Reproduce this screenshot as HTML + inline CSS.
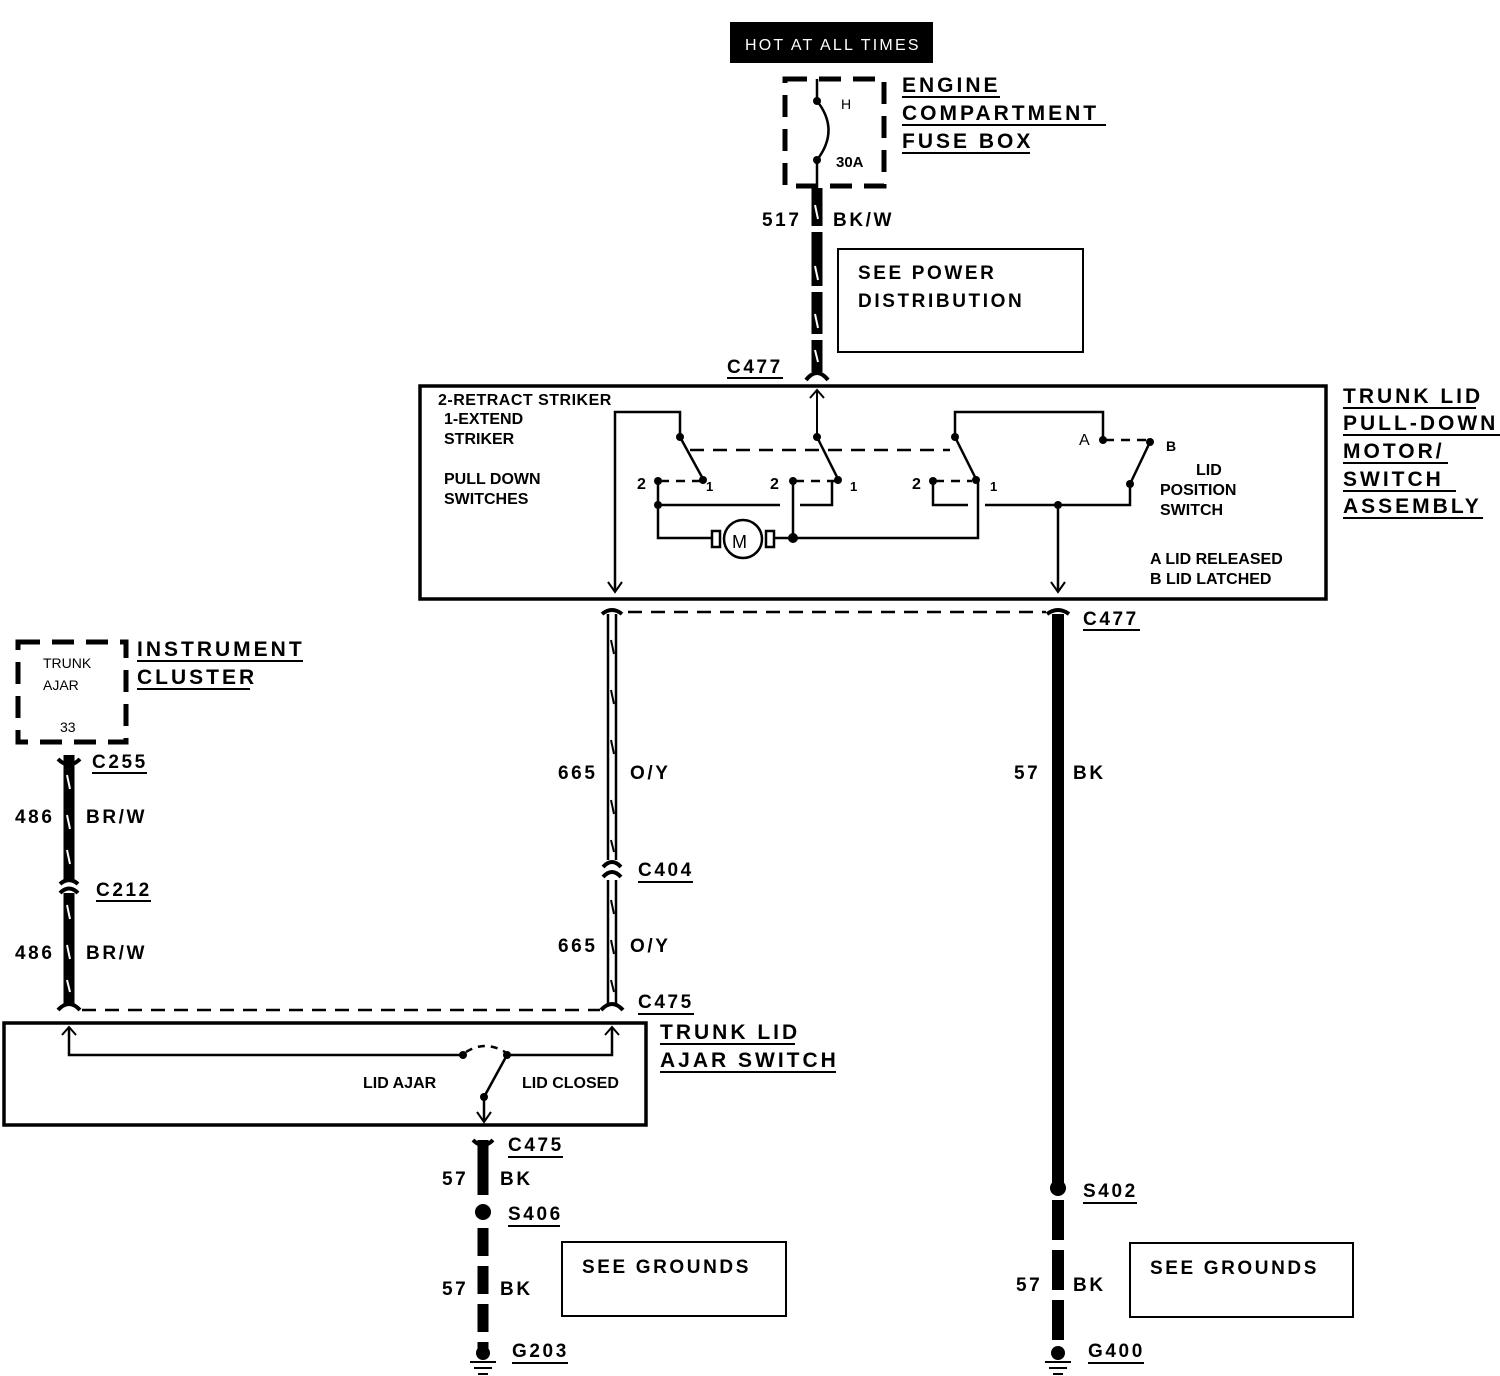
<!DOCTYPE html>
<html><head><meta charset="utf-8"><style>
html,body{margin:0;padding:0;background:#fff}
svg{display:block}
text{font-family:"Liberation Sans",Arial,sans-serif;font-weight:bold;fill:#000}
.l{font-size:19px;letter-spacing:2.6px}
.t{font-size:21px;letter-spacing:3px}
.s{font-size:16px}
</style></head><body>
<svg width="1500" height="1376" viewBox="0 0 1500 1376" xmlns="http://www.w3.org/2000/svg">
<g stroke="#000" fill="none">
<rect x="730" y="22" width="203" height="41" fill="#000" stroke="none"/>
<rect x="785" y="79" width="99" height="107" stroke-width="5" stroke-dasharray="22,12"/>
<path d="M817 79V101 M817 101 Q840 130 817 160 M817 160V188" stroke-width="2.5"/>
<path d="M817 188V372" stroke-width="11"/>
<path d="M817 232v-6 M817 292v-6 M817 340v-6" stroke="#fff" stroke-width="12"/>
<path d="M815 205l3 14 M815 266l3 14 M815 314l3 14 M815 350l3 12" stroke="#fff" stroke-width="2"/>
<path d="M806 380 Q817 366 828 380" stroke-width="4"/>
<rect x="838" y="249" width="245" height="103" stroke-width="2"/>
<rect x="420" y="386" width="906" height="213" stroke-width="3.5"/>
<path d="M817 437V390 M810 398l7-8 7 8" stroke-width="2"/>
<g stroke-width="2.5">
<path d="M615 590V412H680V437"/>
<path d="M680 437L703 479"/>
<path d="M658 481V538H712 M658 505H780 M800 505H832V481"/>
<path d="M774 538H978V481"/>
<path d="M793 481V538"/>
<path d="M817 437L838 479"/>
<path d="M955 437V412H1103V440"/>
<path d="M955 437L976 479"/>
<path d="M933 481V505H968 M985 505H1130V484 M1130 484L1150 442"/>
<path d="M1058 505V590"/>
</g>
<path d="M608 582l7 10 7-10 M1051 582l7 10 7-10" stroke-width="2"/>
<path d="M690 450H950" stroke-width="2.5" stroke-dasharray="14,9"/>
<path d="M660 481H700 M795 481H836 M935 481H972 M1105 440H1150" stroke-width="2.5" stroke-dasharray="9,7"/>
<circle cx="743" cy="539" r="19" stroke-width="2.5" fill="#fff"/>
<rect x="712" y="531" width="8" height="16" stroke-width="2.5" fill="#fff"/>
<rect x="766" y="531" width="8" height="16" stroke-width="2.5" fill="#fff"/>
</g>
<g fill="#000">
<circle cx="680" cy="437" r="4"/><circle cx="703" cy="480" r="4"/><circle cx="658" cy="481" r="4"/><circle cx="658" cy="505" r="4"/>
<circle cx="817" cy="437" r="4"/><circle cx="838" cy="480" r="4"/><circle cx="793" cy="481" r="4"/><circle cx="793" cy="538" r="5"/>
<circle cx="955" cy="437" r="4"/><circle cx="976" cy="480" r="4"/><circle cx="933" cy="481" r="4"/>
<circle cx="1103" cy="440" r="4"/><circle cx="1150" cy="442" r="4"/><circle cx="1130" cy="484" r="4"/><circle cx="1058" cy="505" r="4"/>
<circle cx="817" cy="101" r="4"/><circle cx="817" cy="160" r="4"/>
</g>
<g stroke="#000" fill="none">
<path d="M628 612H1046" stroke-width="2.5" stroke-dasharray="14,9"/>
<path d="M602 614 Q612 606 622 614 M1047 614 Q1058 606 1069 614" stroke-width="4"/>
<path d="M608 614V860 M616 614V860 M608 880V1005 M616 880V1005" stroke-width="2.5"/>
<path d="M611 640l3 14 M611 690l3 14 M611 740l3 14 M611 800l3 14 M611 840l3 12 M611 900l3 14 M611 940l3 14 M611 980l3 12" stroke-width="2"/>
<path d="M603 867 Q612 857 621 867 M603 877 Q612 867 621 877" stroke-width="4"/>
<path d="M1058 614V1188" stroke-width="12"/>
<path d="M1058 1200V1350" stroke-width="12" stroke-dasharray="40,10"/>
<rect x="18" y="642" width="108" height="100" stroke-width="5" stroke-dasharray="22,12"/>
<path d="M69 755V880 M69 893V1005" stroke-width="11"/>
<path d="M67 775l3 14 M67 815l3 14 M67 850l3 14 M67 905l3 14 M67 945l3 14 M67 980l3 12" stroke="#fff" stroke-width="2"/>
<path d="M58 759 Q69 770 80 759" stroke-width="4"/>
<path d="M60 884 Q69 876 78 884 M60 893 Q69 884 78 893" stroke-width="4"/>
<path d="M58 1010 Q69 998 80 1010 M601 1010 Q612 998 623 1010" stroke-width="4"/>
<path d="M82 1010H600" stroke-width="2.5" stroke-dasharray="14,9"/>
<rect x="4" y="1023" width="642" height="102" stroke-width="3.5"/>
<g stroke-width="2.5">
<path d="M69 1028V1055H463 M507 1055H612V1028 M507 1055L484 1097V1120"/>
</g>
<path d="M62 1035l7-8 7 8 M605 1035l7-8 7 8 M477 1112l7 10 7-10" stroke-width="2"/>
<path d="M466 1052 Q485 1040 505 1052" stroke-width="2.5" stroke-dasharray="7,6"/>
<path d="M483 1140V1195" stroke-width="11"/>
<path d="M483 1228V1350" stroke-width="11" stroke-dasharray="28,10"/>
<path d="M473 1140 Q483 1150 493 1140" stroke-width="4"/>
<rect x="562" y="1242" width="224" height="74" stroke-width="2"/>
<rect x="1130" y="1243" width="223" height="74" stroke-width="2"/>
<path d="M470 1362H496 M474 1368H492 M478 1374H488 M1045 1362H1071 M1049 1368H1067 M1053 1374H1063" stroke-width="2"/>
</g>
<g fill="#000">
<circle cx="483" cy="1212" r="8"/><circle cx="1058" cy="1188" r="8"/>
<circle cx="483" cy="1353" r="7"/><circle cx="1058" cy="1353" r="7"/>
<circle cx="463" cy="1055" r="4"/><circle cx="507" cy="1055" r="4"/><circle cx="484" cy="1097" r="4"/>
</g>
<g stroke="#000" stroke-width="2">
<path d="M902 97H1000 M902 125H1106 M902 153H1030 M727 378H783 M1343 408H1476 M1343 435H1500 M1343 463H1448 M1343 491H1456 M1343 518H1483 M1083 630H1140 M137 661H303 M137 689H250 M92 773H147 M96 901H151 M638 882H693 M638 1014H694 M660 1044H795 M660 1072H836 M508 1157H563 M508 1226H560 M512 1363H568 M1083 1203H1137 M1088 1363H1144"/>
</g>
<text x="745" y="50" style="fill:#fff;font-size:16px;font-weight:normal;letter-spacing:2.2px">HOT AT ALL TIMES</text>
<text x="841" y="109" style="font-size:14px;font-weight:normal">H</text>
<text x="836" y="167" style="font-size:15px">30A</text>
<text x="902" y="92" class="t">ENGINE</text>
<text x="902" y="120" class="t">COMPARTMENT</text>
<text x="902" y="148" class="t">FUSE BOX</text>
<text x="762" y="226" class="l">517</text>
<text x="833" y="226" class="l">BK/W</text>
<text x="858" y="279" class="l">SEE POWER</text>
<text x="858" y="307" class="l">DISTRIBUTION</text>
<text x="727" y="373" class="l">C477</text>
<text x="1343" y="403" class="t">TRUNK LID</text>
<text x="1343" y="430" class="t">PULL-DOWN</text>
<text x="1343" y="458" class="t">MOTOR/</text>
<text x="1343" y="486" class="t">SWITCH</text>
<text x="1343" y="513" class="t">ASSEMBLY</text>
<text x="438" y="405" class="s" style="letter-spacing:0.5px">2-RETRACT STRIKER</text>
<text x="444" y="424" class="s">1-EXTEND</text>
<text x="444" y="444" class="s">STRIKER</text>
<text x="444" y="484" class="s">PULL DOWN</text>
<text x="444" y="504" class="s">SWITCHES</text>
<text x="637" y="489" class="s">2</text><text x="706" y="491" style="font-size:13px">1</text>
<text x="770" y="489" class="s">2</text><text x="850" y="491" style="font-size:13px">1</text>
<text x="912" y="489" class="s">2</text><text x="990" y="491" style="font-size:13px">1</text>
<text x="1079" y="445" style="font-size:16px;font-weight:normal">A</text><text x="1166" y="451" style="font-size:14px">B</text>
<text x="732" y="548" style="font-size:18px;font-weight:normal">M</text>
<text x="1196" y="475" class="s">LID</text>
<text x="1160" y="495" class="s">POSITION</text>
<text x="1160" y="515" class="s">SWITCH</text>
<text x="1150" y="564" class="s">A LID RELEASED</text>
<text x="1150" y="584" class="s">B LID LATCHED</text>
<text x="1083" y="625" class="l">C477</text>
<text x="43" y="668" style="font-size:14px;font-weight:normal">TRUNK</text>
<text x="43" y="690" style="font-size:14px;font-weight:normal">AJAR</text>
<text x="60" y="732" style="font-size:14px;font-weight:normal">33</text>
<text x="137" y="656" class="t">INSTRUMENT</text>
<text x="137" y="684" class="t">CLUSTER</text>
<text x="92" y="768" class="l">C255</text>
<text x="15" y="823" class="l">486</text><text x="86" y="823" class="l">BR/W</text>
<text x="96" y="896" class="l">C212</text>
<text x="15" y="959" class="l">486</text><text x="86" y="959" class="l">BR/W</text>
<text x="558" y="779" class="l">665</text><text x="630" y="779" class="l">O/Y</text>
<text x="638" y="876" class="l">C404</text>
<text x="558" y="952" class="l">665</text><text x="630" y="952" class="l">O/Y</text>
<text x="638" y="1008" class="l">C475</text>
<text x="660" y="1039" class="t">TRUNK LID</text>
<text x="660" y="1067" class="t">AJAR SWITCH</text>
<text x="363" y="1088" class="s">LID AJAR</text>
<text x="522" y="1088" class="s">LID CLOSED</text>
<text x="1014" y="779" class="l">57</text><text x="1073" y="779" class="l">BK</text>
<text x="508" y="1151" class="l">C475</text>
<text x="442" y="1185" class="l">57</text><text x="500" y="1185" class="l">BK</text>
<text x="508" y="1220" class="l">S406</text>
<text x="442" y="1295" class="l">57</text><text x="500" y="1295" class="l">BK</text>
<text x="512" y="1357" class="l">G203</text>
<text x="582" y="1273" class="l">SEE GROUNDS</text>
<text x="1083" y="1197" class="l">S402</text>
<text x="1016" y="1291" class="l">57</text><text x="1073" y="1291" class="l">BK</text>
<text x="1150" y="1274" class="l">SEE GROUNDS</text>
<text x="1088" y="1357" class="l">G400</text>
</svg>
</body></html>
